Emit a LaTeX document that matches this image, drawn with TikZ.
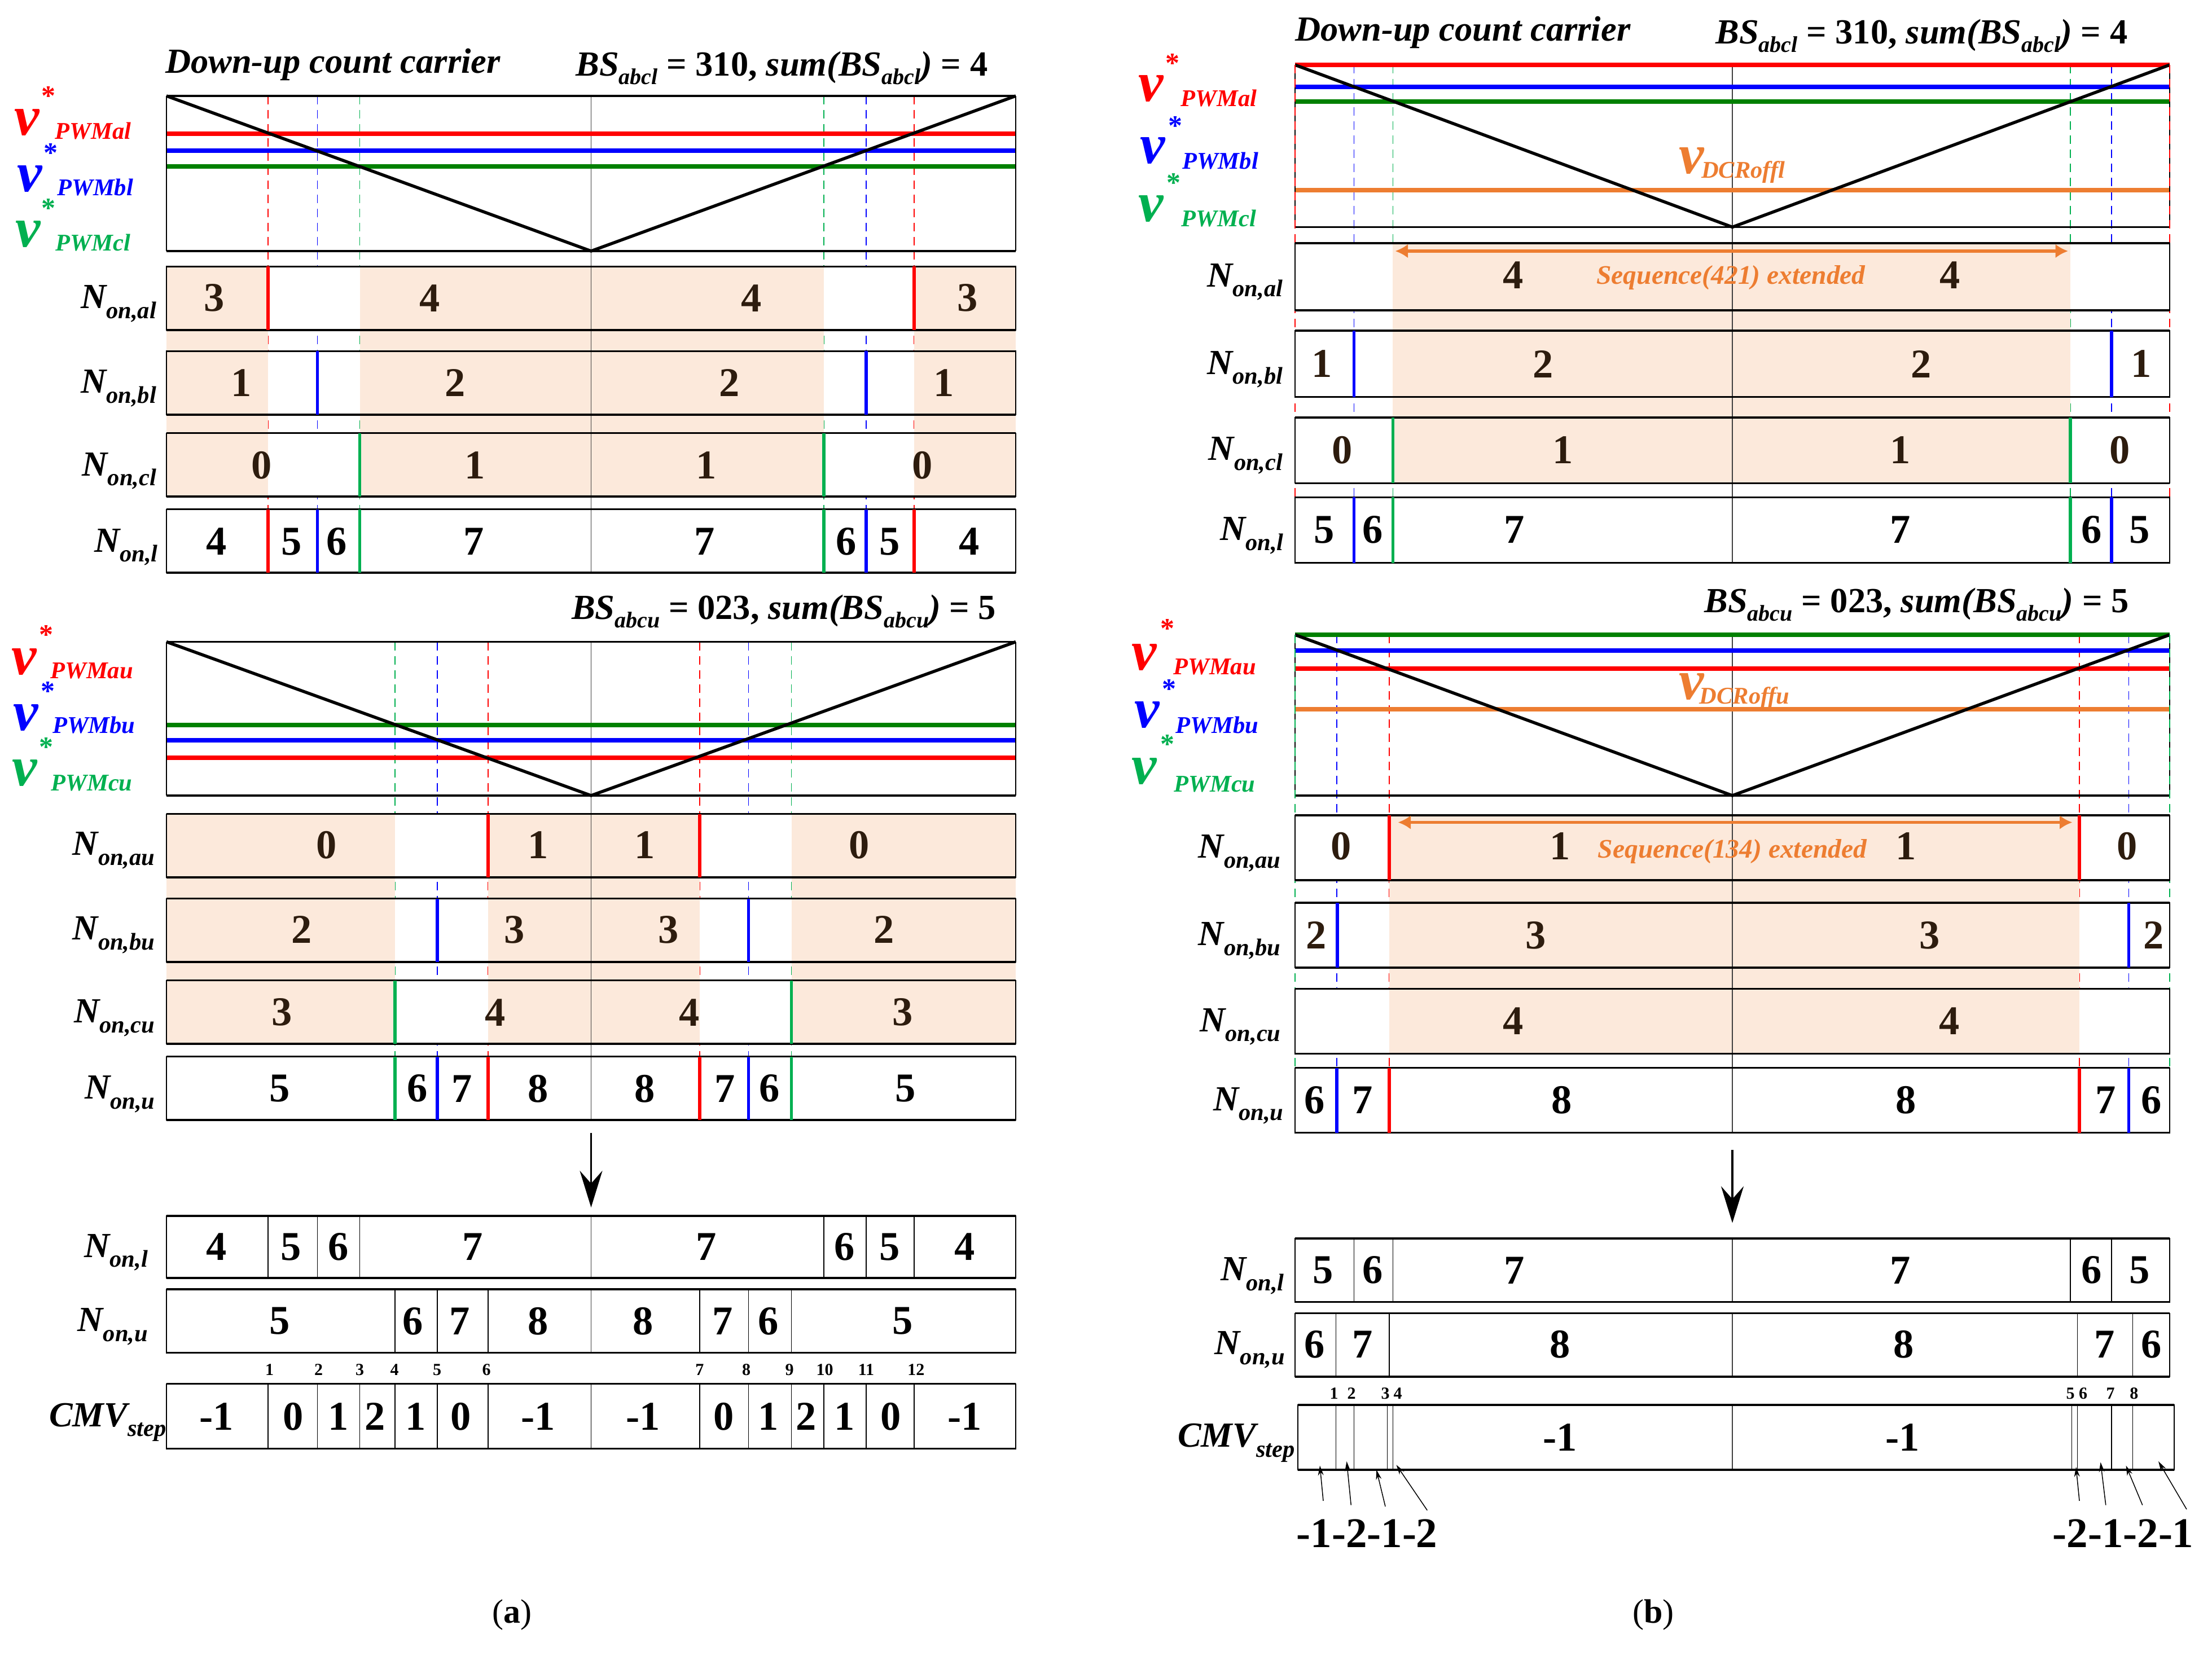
\documentclass[tikz,border=0pt]{standalone}
\usepackage{fontspec}
\setmainfont{Liberation Serif}
\usetikzlibrary{arrows.meta}
\newcommand\fs[1]{\fontsize{#1}{#1}\selectfont}
\newcommand\NL[1]{N\raisebox{-7pt}{\fs{17}#1}}
\newcommand\CL{CMV\raisebox{-7pt}{\fs{17}step}}
\newcommand\BSf[3]{BS\raisebox{-6pt}{\fs{16}#1}\textup{ = #2, }sum(BS\raisebox{-6pt}{\fs{16}#1}) \textup{= #3}}
\newcommand\RowFill[4]{\fill[white] (#1,#3) rectangle (#2,#4);}
\newcommand\RowLine[4]{\draw[line width=0.8pt] (#1,#3) rectangle (#2,#4); \draw[line width=1.4pt] (#1,#3) -- (#2,#3) (#1,#4) -- (#2,#4);}
\newcommand\Vlab[9]{\node[vstar,text=#2] (#1s) at (#3,#4) {*}; \node[vv,text=#2] (#1v) at (#5,#6) {v}; \node[vsub,text=#2] (#1p) at (#7,#8) {#9};}
\definecolor{pwmred}{RGB}{255,0,0}
\definecolor{pwmblue}{RGB}{0,0,255}
\definecolor{lgreen}{RGB}{0,128,0}
\definecolor{mgreen}{RGB}{0,176,80}
\definecolor{peach}{RGB}{252,233,219}
\definecolor{dcorange}{RGB}{237,125,49}
\definecolor{cellbrown}{RGB}{45,28,14}
\begin{document}
\begin{tikzpicture}[x=1pt,y=-1pt,
  dig/.style={font=\fs{29}\bfseries, inner sep=0pt},
  bdig/.style={dig,text=cellbrown},
  nlab/.style={font=\fs{25}\bfseries\itshape, inner sep=0pt, anchor=east},
  ttl/.style={font=\fs{25}\bfseries\itshape, inner sep=0pt, anchor=base west},
  vv/.style={font=\fs{40}\bfseries\itshape, inner sep=0pt},
  vstar/.style={font=\fs{20}\bfseries, inner sep=0pt},
  vsub/.style={font=\fs{17}\bfseries\itshape, inner sep=0pt},
  stepno/.style={font=\fs{12}\bfseries, inner sep=0pt},
  seqtxt/.style={font=\fs{19}\bfseries\itshape, inner sep=0pt, text=dcorange},
  capt/.style={font=\fs{24}, inner sep=0pt},
  dsh/.style={line width=0.6pt, dash pattern=on 6pt off 4pt},
  ctr/.style={line width=0.5pt, draw=black!75},
  pwm/.style={line width=3.2pt},
  tri/.style={line width=2.2pt, line join=miter},
  rowmark/.style={line width=2.2pt},
  divl/.style={line width=0.6pt},
  bigarrow/.style={line width=1.5pt, -{Stealth[length=26pt,width=16pt,inset=9pt]}},
  smallarrow/.style={line width=0.6pt, -{Stealth[length=7pt,width=4pt]}},
  seqarrow/.style={line width=2.2pt, draw=dcorange, {Latex[length=9pt,width=10pt]}-{Latex[length=9pt,width=10pt]}},
]
\fill[white] (0,0) rectangle (1568,1174);
\useasboundingbox (0,0) rectangle (1568,1174);

%%%%%%%%%%%%%%%% (a) upper
\foreach \x/\c in {190/pwmred,648/pwmred,225/pwmblue,614/pwmblue,255/mgreen,584/mgreen}
  \draw[dsh,draw=\c] (\x,68) -- (\x,361);
\foreach \ya/\yb in {189/234,249/294,307/352,361/406} {\RowFill{118}{720}{\ya}{\yb}}
\fill[peach] (118,189) rectangle (190,352);
\fill[peach] (255,189) rectangle (584,352);
\fill[peach] (648,189) rectangle (720,352);
\draw[ctr] (419,68) -- (419,406);
\draw[pwm,pwmred] (118,95) -- (720,95);
\draw[pwm,pwmblue] (118,107) -- (720,107);
\draw[pwm,lgreen] (118,118) -- (720,118);
\draw[line width=0.8pt] (118,68) -- (118,178) (720,68) -- (720,178);
\draw[line width=1.5pt] (118,68) -- (720,68) (118,178) -- (720,178);
\draw[tri] (118,68) -- (419,178) -- (720,68);
\foreach \ya/\yb in {189/234,249/294,307/352,361/406} {\RowLine{118}{720}{\ya}{\yb}}
\draw[rowmark,pwmred] (190,189)--(190,234) (648,189)--(648,234) (190,361)--(190,406) (648,361)--(648,406);
\draw[rowmark,pwmblue] (225,249)--(225,294) (614,249)--(614,294) (225,361)--(225,406) (614,361)--(614,406);
\draw[rowmark,mgreen] (255,307)--(255,352) (584,307)--(584,352) (255,361)--(255,406) (584,361)--(584,406);
\node[ttl] (atitle) at (117,52) {Down-up count carrier};
\node[ttl] (absl) at (408,54) {\BSf{abcl}{310}{4}};
\Vlab{aa}{pwmred}{34.5}{68}{19}{86.7}{66}{93}{PWMal}
\Vlab{ab}{pwmblue}{36}{108.5}{21}{126.7}{67.5}{133}{PWMbl}
\Vlab{ac}{mgreen}{34.5}{147.5}{20}{166}{66}{172}{PWMcl}
\node[nlab] (anal) at (111,215.3) {\NL{on,al}};
\node[nlab] (anbl) at (111,275.3) {\NL{on,bl}};
\node[nlab] (ancl) at (111,334) {\NL{on,cl}};
\node[nlab] (anl) at (112,388) {\NL{on,l}};
\foreach \x/\t [count=\i] in {152/3,304.6/4,532.7/4,685.7/3} \node[bdig] (aal\i) at (\x,211.3) {\t};
\foreach \x/\t [count=\i] in {171/1,322.5/2,517/2,669/1} \node[bdig] (abl\i) at (\x,271.3) {\t};
\foreach \x/\t [count=\i] in {185.6/0,336.7/1,500.6/1,654/0} \node[bdig] (acl\i) at (\x,330) {\t};
\foreach \x/\t [count=\i] in {153.5/4,206.8/5,238.5/6,336/7,499.6/7,599.8/6,630.5/5,687/4} \node[dig] (al\i) at (\x,384) {\t};

%%%%%%%%%%%%%%%% (a) lower
\foreach \x/\c in {346/pwmred,496/pwmred,310/pwmblue,530.5/pwmblue,280/mgreen,561/mgreen}
  \draw[dsh,draw=\c] (\x,455) -- (\x,749);
\foreach \ya/\yb in {577/622,637/682,695/740,749/794} {\RowFill{118}{720}{\ya}{\yb}}
\fill[peach] (118,577) rectangle (280,740);
\fill[peach] (346,577) rectangle (496,740);
\fill[peach] (561,577) rectangle (720,740);
\draw[ctr] (419,455) -- (419,794);
\draw[pwm,lgreen] (118,514) -- (720,514);
\draw[pwm,pwmblue] (118,524.7) -- (720,524.7);
\draw[pwm,pwmred] (118,537) -- (720,537);
\draw[line width=0.8pt] (118,455) -- (118,564) (720,455) -- (720,564);
\draw[line width=1.5pt] (118,455) -- (720,455) (118,564) -- (720,564);
\draw[tri] (118,455) -- (419,564) -- (720,455);
\foreach \ya/\yb in {577/622,637/682,695/740,749/794} {\RowLine{118}{720}{\ya}{\yb}}
\draw[rowmark,pwmred] (346,577)--(346,622) (496,577)--(496,622) (346,749)--(346,794) (496,749)--(496,794);
\draw[rowmark,pwmblue] (310,637)--(310,682) (530.5,637)--(530.5,682) (310,749)--(310,794) (530.5,749)--(530.5,794);
\draw[rowmark,mgreen] (280,695)--(280,740) (561,695)--(561,740) (280,749)--(280,794) (561,749)--(561,794);
\node[ttl] (absu) at (405,439) {\BSf{abcu}{023}{5}};
\Vlab{ua}{pwmred}{32.7}{450}{17}{469.4}{65}{475.7}{PWMau}
\Vlab{ub}{pwmblue}{34}{490}{18.3}{508.7}{66.5}{514}{PWMbu}
\Vlab{uc}{mgreen}{32.7}{529.5}{17.3}{548}{65}{555}{PWMcu}
\node[nlab] (anau) at (110,603) {\NL{on,au}};
\node[nlab] (anbu) at (110,663) {\NL{on,bu}};
\node[nlab] (ancu) at (110,721.7) {\NL{on,cu}};
\node[nlab] (anu) at (110,775.7) {\NL{on,u}};
\foreach \x/\t [count=\i] in {231.4/0,381.6/1,457/1,609/0} \node[bdig] (aau\i) at (\x,599) {\t};
\foreach \x/\t [count=\i] in {214/2,364.6/3,473.7/3,626.7/2} \node[bdig] (abu\i) at (\x,659) {\t};
\foreach \x/\t [count=\i] in {199.8/3,351/4,488.8/4,640/3} \node[bdig] (acu\i) at (\x,717.7) {\t};
\foreach \x/\t [count=\i] in {198.3/5,296/6,327.3/7,381.6/8,457/8,513.8/7,545.5/6,642/5} \node[dig] (au\i) at (\x,771.7) {\t};

%%%%%%%%%%%%%%%% (a) bottom
\coordinate (aarS) at (419,803);
\coordinate (aarE) at (419,856);
\draw[bigarrow] (aarS) -- (aarE);
\draw[divl] (190,862)--(190,906) (225,862)--(225,906) (255,862)--(255,906) (584,862)--(584,906) (614,862)--(614,906) (648,862)--(648,906);
\draw[ctr] (419,862) -- (419,906);
\RowLine{118}{720}{862}{906}
\draw[divl] (280,914)--(280,959) (310,914)--(310,959) (346,914)--(346,959) (496,914)--(496,959) (530.5,914)--(530.5,959) (561,914)--(561,959);
\draw[ctr] (419,914) -- (419,959);
\RowLine{118}{720}{914}{959}
\foreach \x in {190,225,255,280,310,346,419,496,530.5,561,584,614,648} \draw[divl] (\x,981) -- (\x,1027);
\RowLine{118}{720}{981}{1027}
\node[nlab] (abnl) at (105,888) {\NL{on,l}};
\node[nlab] (abnu) at (105,940.6) {\NL{on,u}};
\node[nlab] (acmv) at (118,1008.3) {\CL};
\foreach \x/\t [count=\i] in {153.5/4,206.4/5,240/6,335/7,500.6/7,598.8/6,630.5/5,683.8/4} \node[dig] (abl\i) at (\x,884) {\t};
\foreach \x/\t [count=\i] in {198.3/5,292.8/6,325.9/7,381.6/8,455.7/8,512.4/7,544.5/6,640/5} \node[dig] (abu\i) at (\x,936.6) {\t};
\foreach \x/\t [count=\i] in {153.5/-1,207.8/0,240/1,266/2,294.7/1,326.8/0,381.6/-1,455.7/-1,513/0,544.5/1,571.4/2,598.7/1,631.4/0,683.8/-1} \node[dig] (acv\i) at (\x,1004.3) {\t};
\foreach \x/\t [count=\i] in {191/1,225.8/2,255/3,279.6/4,309.8/5,344.8/6,495.9/7,529/8,559.6/9,584.6/10,614/11,649.3/12} \node[stepno] (asn\i) at (\x,971) {\t};
\node[capt] (acap) at (363,1145) {(\textbf{a})};

%%%%%%%%%%%%%%%% (b) upper
\foreach \x/\c in {959.7/pwmblue,1496.7/pwmblue,987.3/mgreen,1467.6/mgreen}
  \draw[dsh,draw=\c] (\x,46) -- (\x,352.5);
\foreach \ya/\yb in {172.5/220,234.5/281.5,296/342.5,352.5/399} {\RowFill{918}{1538}{\ya}{\yb}}
\fill[peach] (987.3,172.5) rectangle (1467.6,342.5);
\draw[ctr] (1228,46) -- (1228,399);
\draw[pwm,pwmblue] (918,61.5) -- (1538,61.5);
\draw[pwm,lgreen] (918,72) -- (1538,72);
\draw[pwm,dcorange] (918,135) -- (1538,135);
\draw[line width=0.8pt] (918,46) -- (918,161) (1538,46) -- (1538,161);
\draw[line width=1.5pt] (918,161) -- (1538,161);
\draw[pwm,pwmred] (918,46) -- (1538,46);
\draw[tri] (918,46) -- (1228,161) -- (1538,46);
\draw[dsh,draw=pwmred] (918,46) -- (918,352.5) (1538,46) -- (1538,352.5);
\foreach \ya/\yb in {172.5/220,234.5/281.5,296/342.5,352.5/399} {\RowLine{918}{1538}{\ya}{\yb}}
\draw[rowmark,pwmblue] (959.7,234.5)--(959.7,281.5) (1496.7,234.5)--(1496.7,281.5) (959.7,352.5)--(959.7,399) (1496.7,352.5)--(1496.7,399);
\draw[rowmark,mgreen] (987.3,296)--(987.3,342.5) (1467.6,296)--(1467.6,342.5) (987.3,352.5)--(987.3,399) (1467.6,352.5)--(1467.6,399);
\coordinate (bsL) at (989,178);
\coordinate (bsR) at (1466,178);
\draw[seqarrow] (bsL) -- (bsR);
\node[seqtxt] (bseql) at (1227,197) {Sequence(421) extended};
\node[ttl] (btitle) at (918,29) {Down-up count carrier};
\node[ttl] (bbsl) at (1216,31) {\BSf{abcl}{310}{4}};
\Vlab{ba}{pwmred}{831}{45}{816}{62.7}{864}{69.6}{PWMal}
\Vlab{bb}{pwmblue}{833}{89.2}{817}{107}{865}{114}{PWMbl}
\Vlab{bc}{mgreen}{832}{129.5}{816}{148}{864}{154.7}{PWMcl}
\node[vv,text=dcorange] (bdcv) at (1199,114) {v};
\node[vsub,text=dcorange] (bdcs) at (1235.7,122) {DCRoffl};
\node[nlab] (bnal) at (909.5,200) {\NL{on,al}};
\node[nlab] (bnbl) at (909.5,262) {\NL{on,bl}};
\node[nlab] (bncl) at (909.5,323) {\NL{on,cl}};
\node[nlab] (bnl) at (910,379.7) {\NL{on,l}};
\foreach \x/\t [count=\i] in {1072.6/4,1382.3/4} \node[bdig] (bal\i) at (\x,195) {\t};
\foreach \x/\t [count=\i] in {937/1,1093.7/2,1362/2,1517.8/1} \node[bdig] (bbl\i) at (\x,258) {\t};
\foreach \x/\t [count=\i] in {951.6/0,1107.7/1,1347/1,1502.7/0} \node[bdig] (bcl\i) at (\x,319) {\t};
\foreach \x/\t [count=\i] in {938.6/5,973/6,1073.6/7,1347/7,1482.6/6,1516.8/5} \node[dig] (bl\i) at (\x,375.7) {\t};

%%%%%%%%%%%%%%%% (b) lower
\foreach \x/\c in {947.6/pwmblue,1509/pwmblue,984.8/pwmred,1474/pwmred}
  \draw[dsh,draw=\c] (\x,450) -- (\x,757);
\foreach \ya/\yb in {578/624,640/686,701/747,757/803} {\RowFill{918}{1538}{\ya}{\yb}}
\fill[peach] (984.8,578) rectangle (1474,747);
\draw[ctr] (1228,450) -- (1228,803);
\draw[pwm,pwmblue] (918,461) -- (1538,461);
\draw[pwm,pwmred] (918,474) -- (1538,474);
\draw[pwm,dcorange] (918,502.7) -- (1538,502.7);
\draw[line width=0.8pt] (918,450) -- (918,564) (1538,450) -- (1538,564);
\draw[line width=1.5pt] (918,564) -- (1538,564);
\draw[pwm,lgreen] (918,450) -- (1538,450);
\draw[tri] (918,450) -- (1228,564) -- (1538,450);
\draw[dsh,draw=mgreen] (918,450) -- (918,757) (1538,450) -- (1538,757);
\foreach \ya/\yb in {578/624,640/686,701/747,757/803} {\RowLine{918}{1538}{\ya}{\yb}}
\draw[rowmark,pwmred] (984.8,578)--(984.8,624) (1474,578)--(1474,624) (984.8,757)--(984.8,803) (1474,757)--(1474,803);
\draw[rowmark,pwmblue] (948,640)--(948,686) (1509,640)--(1509,686) (947.6,757)--(947.6,803) (1509,757)--(1509,803);
\coordinate (bsL2) at (991,583);
\coordinate (bsR2) at (1469,583);
\draw[seqarrow] (bsL2) -- (bsR2);
\node[seqtxt] (bsequ) at (1228,603.5) {Sequence(134) extended};
\node[ttl] (bbsu) at (1208,434) {\BSf{abcu}{023}{5}};
\Vlab{bua}{pwmred}{827.7}{445.5}{811}{466}{861}{472.7}{PWMau}
\Vlab{bub}{pwmblue}{828.7}{488.5}{813}{506.7}{862.8}{514}{PWMbu}
\Vlab{buc}{mgreen}{827.7}{527.5}{811}{547}{861}{556}{PWMcu}
\node[vv,text=dcorange] (bduv) at (1199,487) {v};
\node[vsub,text=dcorange] (bdus) at (1236.6,495) {DCRoffu};
\node[nlab] (bnau) at (908,605) {\NL{on,au}};
\node[nlab] (bnbu) at (908,667) {\NL{on,bu}};
\node[nlab] (bncu) at (908,728) {\NL{on,cu}};
\node[nlab] (bnu) at (910,784) {\NL{on,u}};
\foreach \x/\t [count=\i] in {950.6/0,1106/1,1351/1,1507.7/0} \node[bdig] (bau\i) at (\x,599.8) {\t};
\foreach \x/\t [count=\i] in {933/2,1088.7/3,1368/3,1526.8/2} \node[bdig] (bbu\i) at (\x,663) {\t};
\foreach \x/\t [count=\i] in {1072.6/4,1382/4} \node[bdig] (bcu\i) at (\x,724) {\t};
\foreach \x/\t [count=\i] in {932/6,966/7,1107/8,1351/8,1492.7/7,1525/6} \node[dig] (bu\i) at (\x,780) {\t};

%%%%%%%%%%%%%%%% (b) bottom
\coordinate (barS) at (1228,815);
\coordinate (barE) at (1228,867);
\draw[bigarrow] (barS) -- (barE);
\draw[divl] (959.7,878)--(959.7,923) (987.3,878)--(987.3,923) (1467.6,878)--(1467.6,923) (1496.7,878)--(1496.7,923);
\draw[ctr] (1228,878) -- (1228,923);
\RowLine{918}{1538}{878}{923}
\draw[divl] (947,931)--(947,976) (984.8,931)--(984.8,976) (1472.6,931)--(1472.6,976) (1511.7,931)--(1511.7,976);
\draw[ctr] (1228,931) -- (1228,976);
\RowLine{918}{1538}{931}{976}
\foreach \x in {947,959.7,983.3,987.3,1468.6,1472.6,1496.7,1511.7} \draw[divl] (\x,996) -- (\x,1042);
\draw[ctr] (1228,996) -- (1228,1042);
\RowLine{920}{1541}{996}{1042}
\node[nlab] (bbnl) at (910.5,904.5) {\NL{on,l}};
\node[nlab] (bbnu) at (911,957) {\NL{on,u}};
\node[nlab] (bcmv) at (918,1023) {\CL};
\foreach \x/\t [count=\i] in {938/5,973/6,1073.6/7,1347/7,1482.6/6,1516.8/5} \node[dig] (bbl\i) at (\x,900.5) {\t};
\foreach \x/\t [count=\i] in {932/6,965.7/7,1106/8,1349.6/8,1491.7/7,1525/6} \node[dig] (bbu\i) at (\x,953) {\t};
\foreach \x/\t [count=\i] in {1106/-1,1348.6/-1} \node[dig] (bcv\i) at (\x,1019) {\t};
\foreach \x/\t [count=\i] in {945.6/1,958/2,982/3,990.8/4,1467.6/5,1476.6/6,1496/7,1512.7/8} \node[stepno] (bsn\i) at (\x,988) {\t};
\node[dig,font=\fs{30}\bfseries] (bleft) at (969,1087) {-1-2-1-2};
\node[dig,font=\fs{30}\bfseries] (bright) at (1505,1087) {-2-1-2-1};
\foreach \sx/\sy/\tx/\ty [count=\i] in {938/1064/935.6/1039, 957.7/1067/954.6/1036, 982/1068/975.7/1042, 1011.7/1070.7/989.8/1038.5, 1474/1064/1471.6/1040, 1492.7/1067/1489/1036.6, 1518.7/1067/1507/1039, 1550/1070/1530/1036}
{
  \coordinate (sa\i) at (\sx,\sy);
  \coordinate (ta\i) at (\tx,\ty);
  \draw[smallarrow] (sa\i) -- (ta\i);
}
\node[capt] (bcap) at (1172,1145) {(\textbf{b})};
\end{tikzpicture}
\end{document}
